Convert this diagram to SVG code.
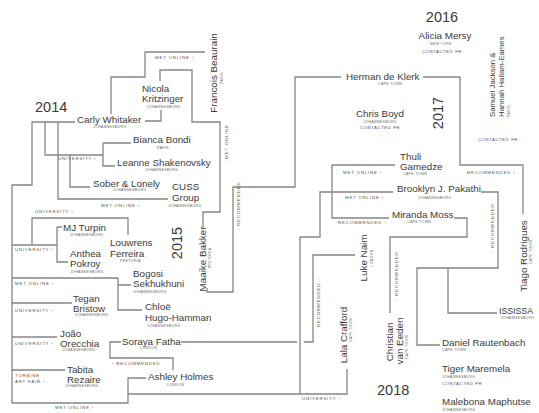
<svg xmlns="http://www.w3.org/2000/svg" width="539" height="413" viewBox="0 0 539 413">
<style>
.c path{fill:none;stroke:#858585;stroke-width:1.3}
.c path.gap{stroke:#fff;stroke-width:4}
text{font-family:"Liberation Sans",Arial,sans-serif;fill:#3a3a3a}
.n{font-size:9.8px}
.sm{font-size:7.8px}
.s{font-size:3.5px;letter-spacing:0.35px;fill:#666}
.l{font-size:4.4px;letter-spacing:0.8px;fill:#555}
.cf{font-size:4.4px;letter-spacing:0.5px;fill:#555}
.y{font-size:14.5px}
.m{text-anchor:middle}
</style>
<rect width="539" height="413" fill="#fff"/>
<g class="c" id="connectors">
<path d="M111,114 V77 H145 V52 H205"/>
<path d="M145,121 H161 V110"/>
<path d="M160,81 V70 H192 V122 H220 V212 H203 V228"/>
<path d="M75,122 H32 V185 H12 V403 H128 V378 H146"/>
<path d="M45,122 V155 H103"/>
<path d="M58,122 V199 H168"/>
<path d="M103,143 V166 H115 M103,143 H131"/>
<path d="M70,155 V187 H90"/>
<path d="M12,245 H57 M57,227 V262 H68 M57,227 H62 M32,245 V218 H128 V235"/>
<path d="M12,278 H118 V310 H142 M118,285 H131"/>
<path d="M12,303 H72"/>
<path d="M12,337 H57"/>
<path d="M12,370 H65"/>
<path d="M121,342 H110 V358 H173 V370"/>
<path d="M181,342 H313 V255 H355"/>
<path class="gap" d="M297,342 H304"/>
<path d="M128,394 H347 V369 M300,394 V237 H320 V192 H393"/>
<path d="M395,165 H332 V218 H389"/>
<path d="M454,218 H467 V237 H390 V313"/>
<path d="M481,192 H498 V268 H417 V345 H440 M448,268 V313 H497"/>
<path d="M341,77 H295 V187 H233 V292 H207 V288"/>
<path d="M423,77 H460 V165 H523 V214"/>
</g>
<g id="labels">
<text class="l" x="155" y="59">MET ONLINE ›</text>
<text class="l" transform="translate(228,163) rotate(-90)">‹ MET ONLINE</text>
<text class="l" x="58" y="160">UNIVERSITY ›</text>
<text class="l" x="101" y="207">MET ONLINE ›</text>
<text class="l" x="35" y="213">UNIVERSITY ›</text>
<text class="l" x="15" y="251">UNIVERSITY ›</text>
<text class="l" x="15" y="285">MET ONLINE ›</text>
<text class="l" x="15" y="312">UNIVERSITY ›</text>
<text class="l" x="15" y="345">UNIVERSITY ›</text>
<text class="l" x="15" y="377">TURBINE</text>
<text class="l" x="15" y="383">ART FAIR ›</text>
<text class="l" x="112" y="365">› RECOMMENDED</text>
<text class="l" x="55" y="409">MET ONLINE ›</text>
<text class="l" transform="translate(240,230) rotate(-90)">‹ RECOMMENDED</text>
<text class="l" transform="translate(320,327) rotate(-90)">RECOMMENDED ›</text>
<text class="l" x="302" y="400">UNIVERSITY ›</text>
<text class="l" x="343" y="174">MET ONLINE ›</text>
<text class="l" x="345" y="199">MET ONLINE ›</text>
<text class="l" x="338" y="224">RECOMMENDED ›</text>
<text class="l" x="467" y="174">RECOMMENDED ›</text>
<text class="l" transform="translate(398,300) rotate(-90)">‹ RECOMMENDED</text>
<text class="l" transform="translate(494,252) rotate(-90)">‹ RECOMMENDED</text>
</g>
<g id="years">
<text class="y" x="35" y="112">2014</text>
<text class="y m" transform="translate(182,243) rotate(-90)">2015</text>
<text class="y m" x="442" y="22">2016</text>
<text class="y m" transform="translate(443,113) rotate(-90)">2017</text>
<text class="y" x="377" y="395">2018</text>
</g>
<g id="carly"><text class="n" x="77" y="123">Carly Whitaker</text><text class="s" x="93" y="128">JOHANNESBURG</text></g>
<g id="nicola"><text class="n" x="142" y="92">Nicola</text><text class="n" x="142" y="102">Kritzinger</text><text class="s" x="147" y="108">JOHANNESBURG</text></g>
<g id="francois"><text class="n m" transform="translate(217,73) rotate(-90)">Francois Beaurain</text><text class="s m" transform="translate(223,78) rotate(-90)">PARIS</text></g>
<g id="bianca"><text class="n" x="133" y="143">Bianca Bondi</text><text class="s" x="157" y="149">PARIS</text></g>
<g id="leanne"><text class="n" x="117" y="166">Leanne Shakenovsky</text><text class="s" x="145" y="171">JOHANNESBURG</text></g>
<g id="sober"><text class="n" x="93" y="187">Sober &amp; Lonely</text><text class="s" x="113" y="191">JOHANNESBURG</text></g>
<g id="cuss"><text class="n" x="172" y="190">CUSS</text><text class="n" x="172" y="201">Group</text><text class="s" x="168" y="207">JOHANNESBURG</text></g>
<g id="mj"><text class="n" x="63" y="231">MJ Turpin</text><text class="s" x="70" y="236">JOHANNESBURG</text></g>
<g id="louwrens"><text class="n" x="110" y="246">Louwrens</text><text class="n" x="110" y="257">Ferreira</text><text class="s" x="120" y="262">PRETORIA</text></g>
<g id="anthea"><text class="n" x="70" y="256.5">Anthea</text><text class="n" x="70" y="267">Pokroy</text><text class="s" x="70" y="273">JOHANNESBURG</text></g>
<g id="bogosi"><text class="n" x="133" y="277">Bogosi</text><text class="n" x="133" y="287">Sekhukhuni</text><text class="s" x="133" y="293">JOHANNESBURG</text></g>
<g id="tegan"><text class="n" x="73" y="302">Tegan</text><text class="n" x="73" y="312">Bristow</text><text class="s" x="75" y="316">JOHANNESBURG</text></g>
<g id="chloe"><text class="n" x="145" y="310">Chloë</text><text class="n" x="145" y="321">Hugo-Hamman</text><text class="s" x="147" y="327">JOHANNESBURG</text></g>
<g id="joao"><text class="n" x="60" y="337">João</text><text class="n" x="60" y="347">Orecchia</text><text class="s" x="62" y="351">JOHANNESBURG</text></g>
<g id="soraya"><text class="n" x="122" y="345">Soraya Fatha</text><text class="s" x="140" y="349">LONDON</text></g>
<g id="tabita"><text class="n" x="67" y="373">Tabita</text><text class="n" x="67" y="383">Rezaire</text><text class="s" x="65" y="387">JOHANNESBURG</text></g>
<g id="ashley"><text class="n" x="148" y="380">Ashley Holmes</text><text class="s" x="167" y="386">LONDON</text></g>
<g id="maaike"><text class="n m" transform="translate(206,259) rotate(-90)">Maaike Bakker</text><text class="s m" transform="translate(211,258) rotate(-90)">PRETORIA</text></g>
<g id="herman"><text class="n" x="346" y="80">Herman de Klerk</text><text class="s" x="378" y="85">CAPE TOWN</text></g>
<g id="alicia"><text class="n m" x="445" y="39">Alicia Mersy</text><text class="s m" x="441" y="45">NEW YORK</text><text class="cf m" x="442" y="53">CONTACTED FR</text></g>
<g id="chris"><text class="n m" x="380" y="117">Chris Boyd</text><text class="s m" x="380" y="123">JOHANNESBURG</text><text class="cf m" x="380" y="129">CONTACTED FR</text></g>
<g id="samuel"><text class="n sm" transform="translate(495,117) rotate(-90)">Samuel Jackson &amp;</text><text class="n sm" transform="translate(504,117) rotate(-90)">Hannah Hallam-Eames</text><text class="s" transform="translate(510,117) rotate(-90)">PARIS</text><text class="cf m" x="498" y="141">CONTACTED FR</text></g>
<g id="thuli"><text class="n" x="400" y="160">Thuli</text><text class="n" x="400" y="170">Gamedze</text><text class="s" x="403" y="175">CAPE TOWN</text></g>
<g id="brooklyn"><text class="n" x="397" y="192">Brooklyn J. Pakathi</text><text class="s" x="418" y="199">JOHANNESBURG</text></g>
<g id="miranda"><text class="n" x="392" y="218">Miranda Moss</text><text class="s" x="407" y="223">CAPE TOWN</text></g>
<g id="tiago"><text class="n m" transform="translate(527,256) rotate(-90)">Tiago Rodrigues</text><text class="s m" transform="translate(532,252) rotate(-90)">CAPE TOWN</text></g>
<g id="luke"><text class="n m" transform="translate(367,258) rotate(-90)">Luke Naim</text><text class="s m" transform="translate(373,258) rotate(-90)">LONDON</text></g>
<g id="lala"><text class="n m" transform="translate(347,335) rotate(-90)">Lala Crafford</text><text class="s m" transform="translate(352,330) rotate(-90)">CAPE TOWN</text></g>
<g id="christian"><text class="n m" transform="translate(393,342) rotate(-90)">Christian</text><text class="n m" transform="translate(403,341) rotate(-90)">van Eeden</text><text class="s m" transform="translate(408,347) rotate(-90)">CAPE TOWN</text></g>
<g id="ississa"><text class="n" x="499" y="314" textLength="34" lengthAdjust="spacingAndGlyphs">ISSISSA</text><text class="s" x="501" y="319">JOHANNESBURG</text></g>
<g id="daniel"><text class="n" x="442" y="346">Daniel Rautenbach</text><text class="s" x="442" y="351">CAPE TOWN</text></g>
<g id="tiger"><text class="n" x="442" y="372">Tiger Maremela</text><text class="s" x="442" y="378">JOHANNESBURG</text><text class="cf" x="442" y="385">CONTACTED FR</text></g>
<g id="malebona"><text class="n" x="442" y="405">Malebona Maphutse</text><text class="s" x="442" y="411">JOHANNESBURG</text></g>
</svg>
